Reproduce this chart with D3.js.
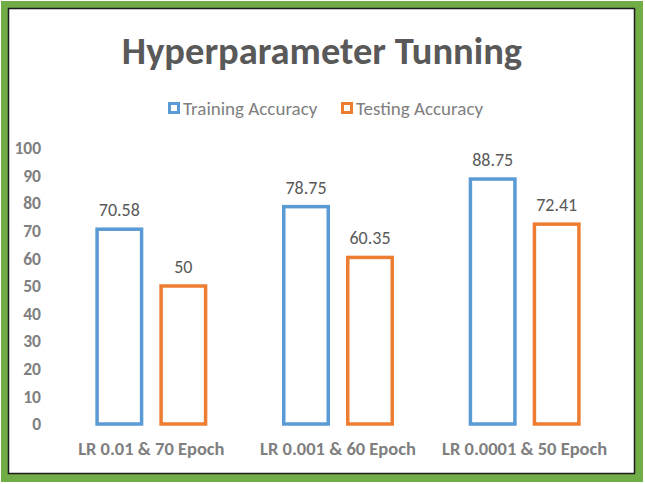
<!DOCTYPE html>
<html>
<head>
<meta charset="utf-8">
<script src="https://cdn.jsdelivr.net/npm/d3@7"></script>
<style>
  body { margin: 0; background: #fff; }
  svg { display: block; font-family: Carlito, Lato, 'Noto Sans', sans-serif; }
</style>
</head>
<body>
<div id="chart"></div>
<script>
const categories = ['LR 0.01 & 70 Epoch', 'LR 0.001 & 60 Epoch', 'LR 0.0001 & 50 Epoch'];
const seriesNames = ['Training Accuracy', 'Testing Accuracy'];
const trainingAcc = [70.58, 78.75, 88.75];
const testingAcc = [50, 60.35, 72.41];
const yTicks = [0, 10, 20, 30, 40, 50, 60, 70, 80, 90, 100];
const colors = ['#5B9BD5', '#ED7D31'];

const W = 645, H = 484;
const margin = {top: 148, right: 27, bottom: 60, left: 58};

const svg = d3.select('#chart').append('svg')
  .attr('width', W)
  .attr('height', H);

// green frame with thin black inner line
svg.append('rect')
  .attr('x', 1).attr('y', 1)
  .attr('width', 642).attr('height', 481)
  .attr('fill', '#70AD47');
svg.append('rect')
  .attr('x', 8.5).attr('y', 8.5)
  .attr('width', 626).attr('height', 465)
  .attr('fill', '#fff')
  .attr('stroke', '#1a1a1a')
  .attr('stroke-width', 1.5);

// title
svg.append('text')
  .attr('x', 322).attr('y', 64)
  .attr('text-anchor', 'middle')
  .attr('font-size', 38.5)
  .attr('font-weight', 'bold')
  .attr('fill', '#595959')
  .text('Hyperparameter Tunning');

// legend
const legendX = [168, 341];
const legend = svg.append('g');
seriesNames.forEach((name, i) => {
  const g = legend.append('g').attr('transform', 'translate(' + legendX[i] + ',108)');
  g.append('rect')
    .attr('x', 1.5).attr('y', -4.5)
    .attr('width', 9).attr('height', 9)
    .attr('fill', '#fff')
    .attr('stroke', colors[i])
    .attr('stroke-width', 3);
  g.append('text')
    .attr('x', 15).attr('y', 0)
    .attr('dy', '0.35em')
    .attr('font-size', 19)
    .attr('fill', '#7f7f7f')
    .text(name);
});

const plotW = W - margin.left - margin.right;
const plotH = H - margin.top - margin.bottom;
const g = svg.append('g')
  .attr('transform', 'translate(' + margin.left + ',' + margin.top + ')');

const x0 = d3.scaleBand()
  .domain(categories)
  .range([0, plotW])
  .paddingInner(0.4)
  .paddingOuter(0.2);

const x1 = d3.scaleBand()
  .domain(seriesNames)
  .range([0, x0.bandwidth()])
  .paddingInner(0.25);

const y = d3.scaleLinear()
  .domain([0, 100])
  .range([plotH, 0]);

// y axis labels (no line, no ticks)
const yAxis = g.append('g')
  .attr('class', 'axis axis--y')
  .call(d3.axisLeft(y).tickValues(yTicks).tickSize(0).tickPadding(17));
yAxis.select('.domain').remove();
yAxis.selectAll('text')
  .attr('font-family', 'Carlito, Lato, sans-serif')
  .attr('font-size', 17.5)
  .attr('font-weight', 'bold')
  .attr('fill', '#7f7f7f');

// x axis labels
const xAxis = g.append('g')
  .attr('class', 'axis axis--x')
  .attr('transform', 'translate(0,' + plotH + ')')
  .call(d3.axisBottom(x0).tickSize(0).tickPadding(18));
xAxis.select('.domain').remove();
xAxis.selectAll('text')
  .attr('font-family', 'Carlito, Lato, sans-serif')
  .attr('font-size', 18.5)
  .attr('font-weight', 'bold')
  .attr('fill', '#7f7f7f');

const data = categories.map((c, i) => ({
  cat: c,
  values: [
    {name: seriesNames[0], value: trainingAcc[i]},
    {name: seriesNames[1], value: testingAcc[i]}
  ]
}));

const sw = 3.5;
const groups = g.selectAll('.group')
  .data(data)
  .enter().append('g')
  .attr('class', 'group')
  .attr('transform', d => 'translate(' + x0(d.cat) + ',0)');

groups.selectAll('rect')
  .data(d => d.values)
  .enter().append('rect')
  .attr('x', d => x1(d.name) + sw / 2)
  .attr('y', d => y(d.value))
  .attr('width', x1.bandwidth() - sw)
  .attr('height', d => plotH - y(d.value))
  .attr('fill', '#fff')
  .attr('stroke', (d, i) => colors[i])
  .attr('stroke-width', sw);

groups.selectAll('.label')
  .data(d => d.values)
  .enter().append('text')
  .attr('class', 'label')
  .attr('x', d => x1(d.name) + x1.bandwidth() / 2)
  .attr('y', d => y(d.value) - 13)
  .attr('text-anchor', 'middle')
  .attr('font-size', 18)
  .attr('fill', '#595959')
  .text(d => d.value);
</script>
</body>
</html>
